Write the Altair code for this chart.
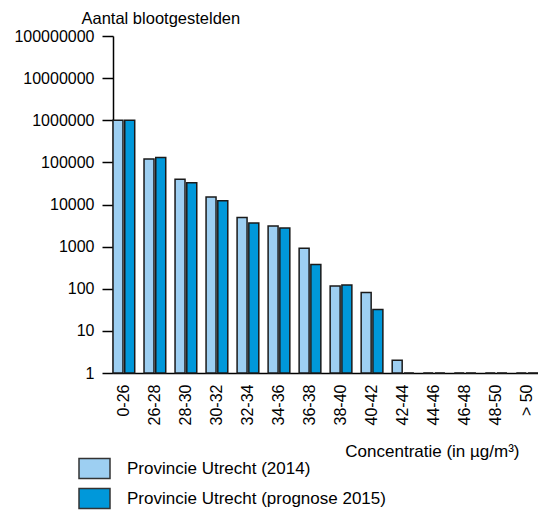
import altair as alt
import pandas as pd

categories = ["0-26", "26-28", "28-30", "30-32", "32-34", "34-36", "36-38",
              "38-40", "40-42", "42-44", "44-46", "46-48", "48-50", "> 50"]
series = ["Provincie Utrecht (2014)", "Provincie Utrecht (prognose 2015)"]
values_2014 = [1000000, 120000, 40000, 15000, 4900, 3100, 920, 117, 81, 2, 1, 1, 1, 1]
values_2015 = [1000000, 130000, 33000, 12300, 3650, 2750, 375, 123, 32, 1, 1, 1, 1, 1]
colors = ["#9DCFF2", "#0098DA"]
y_ticks = [1, 10, 100, 1000, 10000, 100000, 1000000, 10000000, 100000000]

rows = []
for c, a, b in zip(categories, values_2014, values_2015):
    rows.append({"cat": c, "serie": series[0], "v": a, "base": 1})
    rows.append({"cat": c, "serie": series[1], "v": b, "base": 1})
df = pd.DataFrame(rows)

font = "Liberation Sans"
rect_path = "M-1,-0.645H1V0.645H-1Z"

chart = alt.Chart(df).mark_bar(stroke="#1a1a1a", strokeWidth=1.5).encode(
    x=alt.X("cat:N", sort=categories,
            scale=alt.Scale(paddingInner=0.3, paddingOuter=0),
            axis=alt.Axis(title="Concentratie (in µg/m³)", labelAngle=-90,
                          ticks=False, labelPadding=11, labelFontSize=16,
                          labelColor="#000", domainColor="#000", domainWidth=1.5,
                          titleFontSize=17, titleFontWeight="normal", titleColor="#000",
                          titleAnchor="end", titleAlign="right", titleBaseline="alphabetic",
                          titleX=406, titleY=83, grid=False)),
    xOffset=alt.XOffset("serie:N", sort=series, scale=alt.Scale(paddingInner=0.15)),
    y=alt.Y("v:Q", scale=alt.Scale(type="log", domain=[1, 100000000]),
            axis=alt.Axis(values=y_ticks,
                          format="d", labelFontSize=16, labelColor="#000", labelPadding=8,
                          tickSize=11, tickColor="#000", domainColor="#000", domainWidth=1.5,
                          tickWidth=1.5, grid=False,
                          title="Aantal blootgestelden", titleAngle=0, titleAlign="left",
                          titleBaseline="alphabetic", titleX=-32, titleY=-13,
                          titleFontSize=16.5, titleFontWeight="normal", titleColor="#000")),
    y2="base:Q",
    color=alt.Color("serie:N", sort=series,
                    scale=alt.Scale(domain=series, range=colors),
                    legend=alt.Legend(title=None, orient="none", legendX=-35, legendY=416,
                                      symbolType=rect_path, symbolSize=961,
                                      symbolStrokeColor="#333", symbolStrokeWidth=1.5,
                                      labelFontSize=17, labelColor="#000", labelOffset=16,
                                      labelLimit=0, rowPadding=0, padding=0)),
).properties(width=425, height=337, autosize="none",
             padding={"left": 105, "top": 28, "right": 0, "bottom": 137})

chart = (chart.configure(font=font, background="white")
         .configure_view(strokeWidth=0, stroke=None)
         .configure_axis(labelFont=font, titleFont=font, grid=False))

chart.save("out.html", embed_options={"renderer": "svg", "actions": False})
